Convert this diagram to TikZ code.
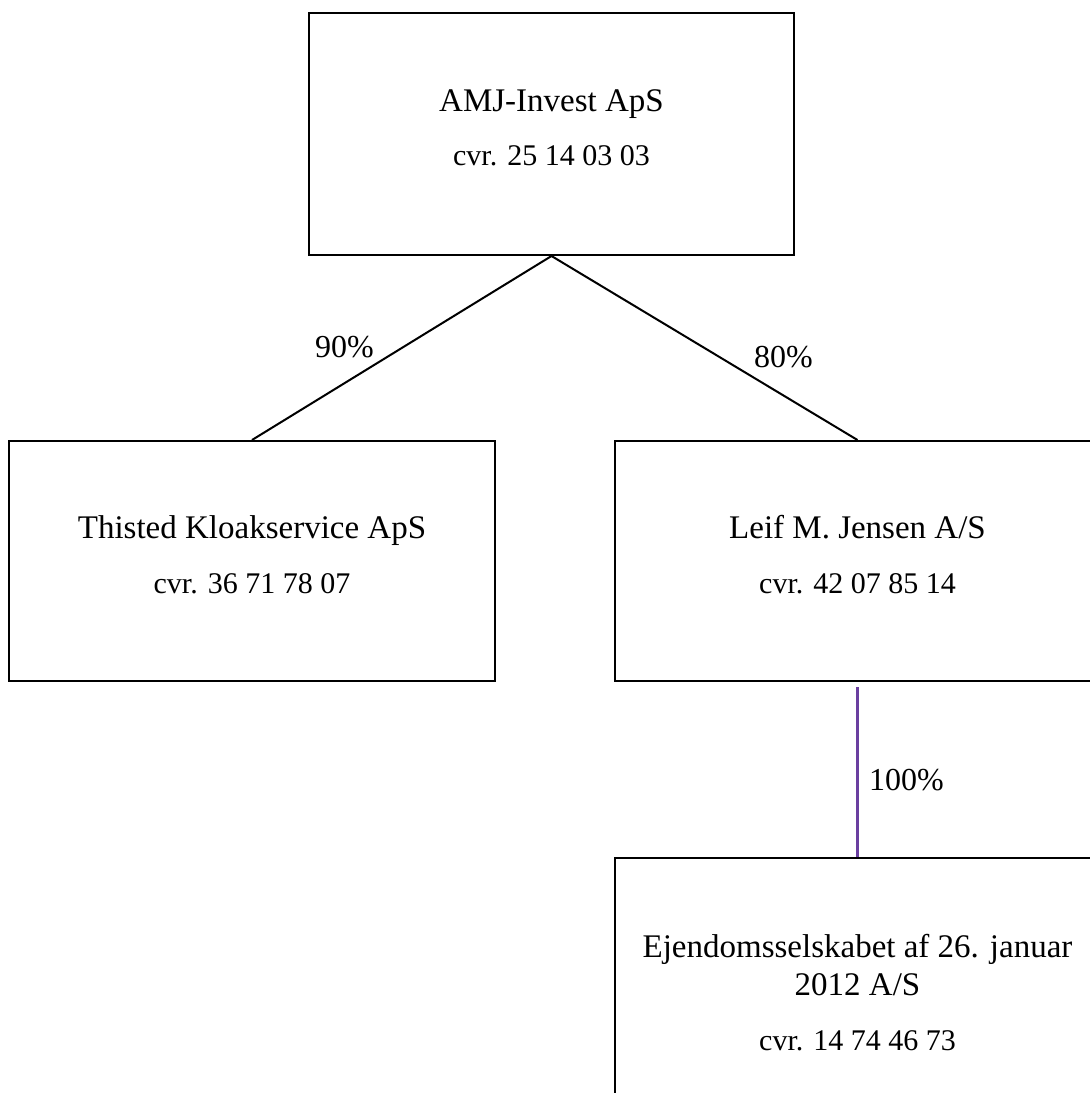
\documentclass[tikz,border=0pt]{standalone}
\usepackage{fontspec}
\setmainfont{Liberation Serif}
\definecolor{linkpurple}{RGB}{106,63,160}
\begin{document}
\begin{tikzpicture}[x=1pt,y=-1pt,
  box/.style={draw, line width=2pt, minimum width=486pt, inner sep=0pt},
  titletext/.style={anchor=base, font=\fontsize{33}{38}\selectfont, inner sep=0pt},
  cvrtext/.style={anchor=base, font=\fontsize{30}{34}\selectfont, inner sep=0pt},
  pct/.style={anchor=base west, font=\fontsize{32}{36}\selectfont, inner sep=0pt},
  link/.style={line width=2pt},
  purplelink/.style={line width=2.5pt, draw=linkpurple}]
\useasboundingbox (0,0) rectangle (1090,1093);
\clip (0,0) rectangle (1090,1093);
% boxes
\node[box, minimum width=485pt, minimum height=242pt] (top) at (551.5,134) {};
\node[box, minimum height=240pt] (left) at (252,561) {};
\node[box, minimum height=240pt] (right) at (857.5,561) {};
\node[box, minimum height=240pt] (bottom) at (857.5,978) {};
% texts
\node[titletext] (toptitle) at (551.5,111) {AMJ-Invest ApS};
\node[cvrtext] (topcvr) at (551.5,165) {cvr. 25 14 03 03};
\node[titletext] (lefttitle) at (252,538) {Thisted Kloakservice ApS};
\node[cvrtext] (leftcvr) at (252,593) {cvr. 36 71 78 07};
\node[titletext] (righttitle) at (857.5,538) {Leif M. Jensen A/S};
\node[cvrtext] (rightcvr) at (857.5,593) {cvr. 42 07 85 14};
\node[titletext] (bottomtitleA) at (857.5,957) {Ejendomsselskabet af 26. januar};
\node[titletext] (bottomtitleB) at (857.5,995) {2012 A/S};
\node[cvrtext] (bottomcvr) at (857.5,1050) {cvr. 14 74 46 73};
% connectors
\draw[link] (top.south) -- (left.north);
\draw[link] (top.south) -- (right.north);
\draw[purplelink] ([yshift=-5pt]right.south) -- (bottom.north);
% percentages
\node[pct] (p90) at (315,357) {90\%};
\node[pct] (p80) at (754,367) {80\%};
\node[pct] (p100) at (869,790) {100\%};
\end{tikzpicture}
\end{document}
